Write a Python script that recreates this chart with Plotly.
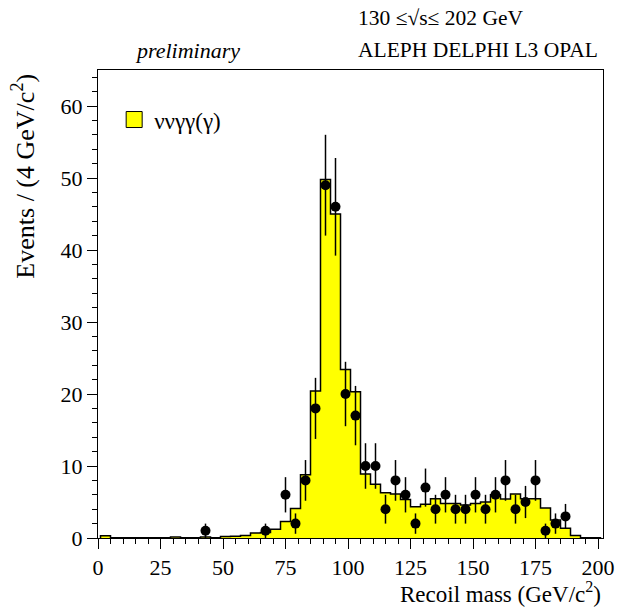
import numpy as np
import plotly.graph_objects as go

# --- data -------------------------------------------------------------
bin_edges = list(range(1, 202, 4))          # 4 GeV bins, 1 ... 201
mc_values = [0.3, 0.05, 0.05, 0.05, 0.05, 0.05, 0.05, 0.15, 0.05, 0.05,
             0.15, 0.05, 0.2, 0.25, 0.35, 0.7, 0.75, 1.2, 2.3, 4.1,
             8.8, 20.4, 49.8, 45.0, 23.4, 20.3, 8.9, 7.45, 6.3, 6.1,
             5.35, 4.35, 4.7, 5.45, 4.8, 4.8, 4.6, 4.8, 5.0, 6.0,
             5.4, 6.1, 5.45, 5.45, 4.15, 2.5, 1.35, 0.35, 0.05, 0.05]

data_x = [43, 67, 75, 79, 83, 87, 91, 95, 99, 103, 107, 111, 115, 119, 123,
          127, 131, 135, 139, 143, 147, 151, 155, 159, 163, 167, 171, 175,
          179, 183, 187]
data_n = [1, 1, 6, 2, 8, 18, 49, 46, 20, 17, 10, 10, 4, 8, 6,
          2, 7, 4, 6, 4, 4, 6, 4, 6, 8, 4, 5, 8,
          1, 2, 3]

x_ticks = [0, 25, 50, 75, 100, 125, 150, 175, 200]
y_ticks = [0, 10, 20, 30, 40, 50, 60]

FONT = "Liberation Serif"

# --- figure -----------------------------------------------------------
step_x = [bin_edges[0]] + bin_edges + [bin_edges[-1]]
step_y = [0] + mc_values + [mc_values[-1], 0]

fig = go.Figure()
fig.add_trace(go.Scatter(
    x=step_x, y=step_y, mode="lines", line_shape="hv",
    line=dict(color="black", width=1.5),
    fill="tozeroy", fillcolor="#ffff00",
    showlegend=False, hoverinfo="skip"))

fig.add_trace(go.Scatter(
    x=data_x, y=data_n, mode="markers",
    marker=dict(symbol="circle", size=10, color="black"),
    error_y=dict(type="data", array=list(np.sqrt(data_n)),
                 color="black", thickness=1.5, width=0),
    showlegend=False))

# legend entry
fig.add_trace(go.Scatter(
    x=[None], y=[None], mode="markers", name="\u03bd\u03bd\u03b3\u03b3(\u03b3)",
    marker=dict(symbol="square", size=16, color="#ffff00",
                line=dict(color="black", width=1))))

axis_common = dict(
    showline=True, linecolor="black", linewidth=1, mirror=True,
    ticks="outside", ticklen=10, tickcolor="black", tickwidth=1,
    showgrid=False, zeroline=False,
    tickfont=dict(family=FONT, size=22, color="black"))

fig.update_xaxes(range=[0, 202], tickvals=x_ticks,
                 minor=dict(dtick=5, tick0=0, ticks="outside", ticklen=5,
                            tickcolor="black", tickwidth=1, showgrid=False),
                 **axis_common)
fig.update_yaxes(range=[0, 65], tickvals=y_ticks,
                 minor=dict(dtick=2, tick0=0, ticks="outside", ticklen=5,
                            tickcolor="black", tickwidth=1, showgrid=False),
                 **axis_common)

fig.update_layout(
    width=626, height=610,
    margin=dict(l=98, r=21, t=70, b=72),
    paper_bgcolor="white", plot_bgcolor="white",
    font=dict(family=FONT, color="black"),
    legend=dict(x=0.032, y=0.94, xanchor="left", yanchor="top",
                bgcolor="rgba(0,0,0,0)", font=dict(family=FONT, size=23)),
    annotations=[
        dict(text="Events / (4 GeV/c<sup>2</sup>)", xref="paper", yref="paper",
             x=-0.148, y=0.996, xanchor="center", yanchor="top", textangle=-90,
             showarrow=False, font=dict(family=FONT, size=26)),
        dict(text="Recoil mass (GeV/c<sup>2</sup>)", xref="paper", yref="paper",
             x=1.0, y=-0.117, xanchor="right", yanchor="middle",
             showarrow=False, font=dict(family=FONT, size=23)),
        dict(text="<i>preliminary</i>", xref="paper", yref="paper",
             x=0.1775, y=1.0427, xanchor="center", yanchor="middle",
             showarrow=False, font=dict(family=FONT, size=22)),
        dict(text="130 \u2264\u221as\u2264 202 GeV", xref="paper", yref="paper",
             x=0.511, y=1.111, xanchor="left", yanchor="middle",
             showarrow=False, font=dict(family=FONT, size=21.5)),
        dict(text="ALEPH DELPHI L3 OPAL", xref="paper", yref="paper",
             x=0.511, y=1.0427, xanchor="left", yanchor="middle",
             showarrow=False, font=dict(family=FONT, size=21.5)),
    ])

fig.write_html("out.html",
               config={"displayModeBar": False},
               post_script="document.body.style.margin='0';"
                           "document.body.style.overflow='hidden';")
